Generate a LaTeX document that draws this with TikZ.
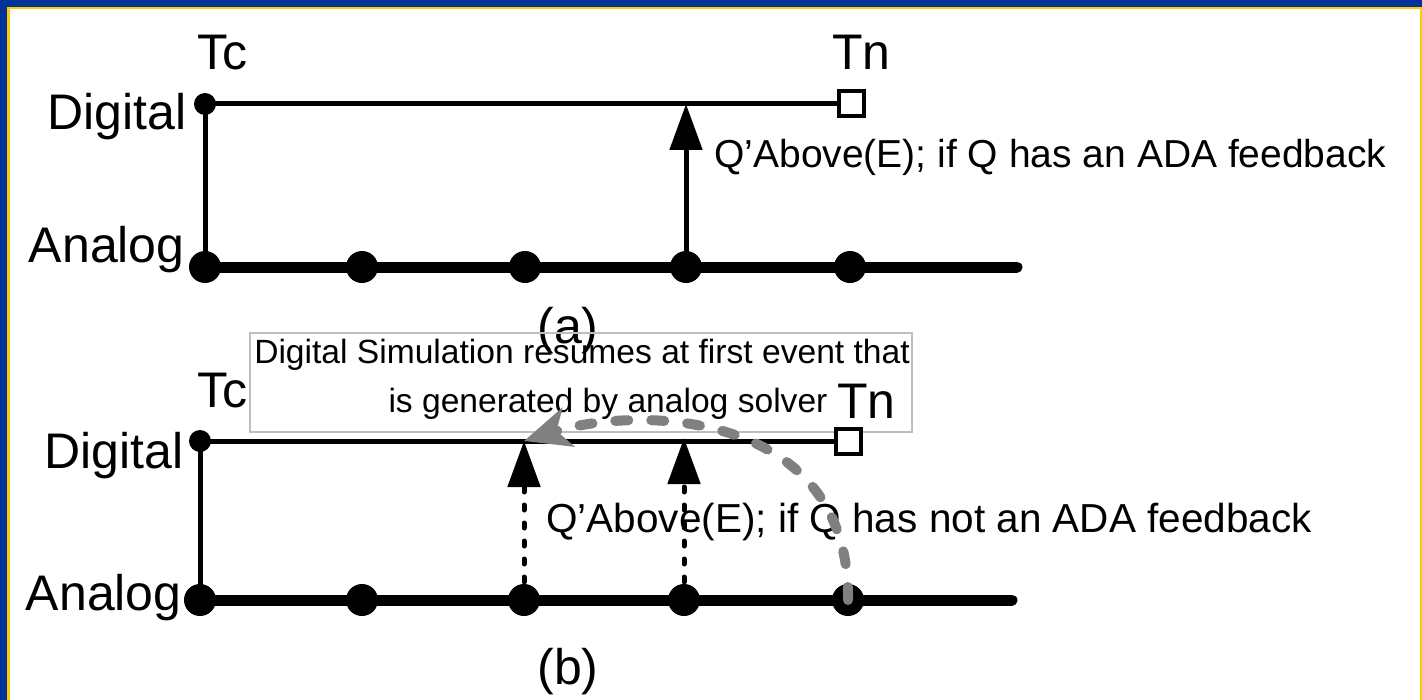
\documentclass[tikz,border=0pt]{standalone}
\usepackage{fontspec}
\setmainfont{Liberation Sans}
\usepackage{tkz-euclide}
\usetikzlibrary{arrows.meta}

\definecolor{frameblue}{RGB}{0,51,153}
\definecolor{frameyellow}{RGB}{255,204,0}
\definecolor{curvegray}{RGB}{128,128,128}
\definecolor{boxgray}{RGB}{190,190,190}

\tikzset{
    wire/.style={line width=2.5pt},
    bus/.style={line width=5.5pt},
    up/.style={wire,-{Triangle[length=23pt,width=16pt]}},
    dotup/.style={wire,line cap=round,dash pattern=on 2.5pt off 6.5pt,-{Triangle[length=23pt,width=16pt]}},
    resume/.style={curvegray,line width=5pt,line cap=round,dash pattern=on 6.5pt off 11.5pt,
        -{Stealth[length=23pt,width=20pt,inset=6pt]}},
    lbl/.style={font=\fontsize{25pt}{30pt}\selectfont,inner sep=0pt},
    note/.style={font=\fontsize{19.5pt}{23pt}\selectfont,inner sep=0pt},
    endbox/.style={draw,fill=white,line width=2pt,minimum size=12.5pt,inner sep=0pt},
}

\begin{document}
\begin{tikzpicture}[x=0.5pt,y=-0.5pt]
    \useasboundingbox (0,0) rectangle (1422,700);
    \fill[frameblue] (0,0) rectangle (1422,700);
    \fill[frameyellow] (7,7) rectangle (1422,700);
    \fill[white] (9.5,9.5) rectangle (1419.5,700);

    % (a) labels
    \node[lbl,anchor=base west] (tc_1) at (197,70) {Tc};
    \node[lbl,anchor=base west] (tn_1) at (832,70) {Tn};
    \node[lbl,anchor=base east] (dig_1) at (187,130) {Digital};
    \node[lbl,anchor=base east] (ana_1) at (185,262) {Analog};
    \node[note,anchor=base west] (q_1) at (714,168) {Q’Above(E); if Q has an ADA feedback};
    \node[lbl,anchor=base] (cap_1) at (568,343) {(a)};

    % (b) labels
    \node[lbl,anchor=base west] (tc_2) at (197,407) {Tc};
    \node[lbl,anchor=base west] (tn_2) at (837,418) {Tn};
    \node[lbl,anchor=base east] (dig_2) at (184,468) {Digital};
    \node[lbl,anchor=base east] (ana_2) at (182,610) {Analog};
    \node[note,font=\fontsize{20.25pt}{24pt}\selectfont,anchor=base west] (q_2) at (546,532)
        {Q’Above(E); if Q has not an ADA feedback};
    \node[lbl,anchor=base] (cap_2) at (568,684) {(b)};

    \tkzDefPoint(250,333){box_1}
    \tkzDefPoint(912,432){box_2}
    \draw[boxgray,line width=0.6pt] (box_1) rectangle (box_2);
    \node[font=\fontsize{16.8pt}{24.5pt}\selectfont,align=center,inner sep=0pt] (msg) at (582,379)
        {Digital Simulation resumes at first event that\\\hspace*{26pt}is generated by analog solver};

    % (a) time lines
    \tkzDefPoint(205,104){d_1}
    \tkzDefPoint(686,104){d_2}
    \tkzDefPoint(851,104){d_3}

    \tkzDefPoint(205,267){a_1}
    \tkzDefPoint(362,267){a_2}
    \tkzDefPoint(525,267){a_3}
    \tkzDefPoint(686,267){a_4}
    \tkzDefPoint(850,267){a_5}
    \tkzDefPoint(1017,267){a_6}

    \tkzDrawSegments[wire](d_1,d_3 d_1,a_1)
    \tkzDrawSegment[bus](a_1,a_6)
    \tkzDrawSegment[up](a_4,d_2)
    \node[endbox] (sq_1) at (d_3) {};
    \foreach \i in {1,...,5} \fill (a_\i) circle (8pt);
    \fill (d_1) circle (5.5pt);

    % (b) time lines
    \tkzDefPoint(200,441){e_1}
    \tkzDefPoint(524,441){e_2}
    \tkzDefPoint(684,438){e_3}
    \tkzDefPoint(848,441){e_4}

    \tkzDefPoint(200,600){b_1}
    \tkzDefPoint(362,600){b_2}
    \tkzDefPoint(524,600){b_3}
    \tkzDefPoint(684,600){b_4}
    \tkzDefPoint(848,600){b_5}
    \tkzDefPoint(1012,600){b_6}

    \tkzDrawSegments[wire](e_1,e_4 e_1,b_1)
    \tkzDrawSegment[bus](b_1,b_6)
    \tkzDrawSegments[dotup](b_3,e_2 b_4,e_3)
    \node[endbox] (sq_2) at (e_4) {};
    \foreach \i in {1,...,5} \fill (b_\i) circle (8pt);
    \fill (e_1) circle (5.5pt);

    \draw[resume] (b_5) .. controls (850,410) and (640,405) .. (e_2);
\end{tikzpicture}
\end{document}
